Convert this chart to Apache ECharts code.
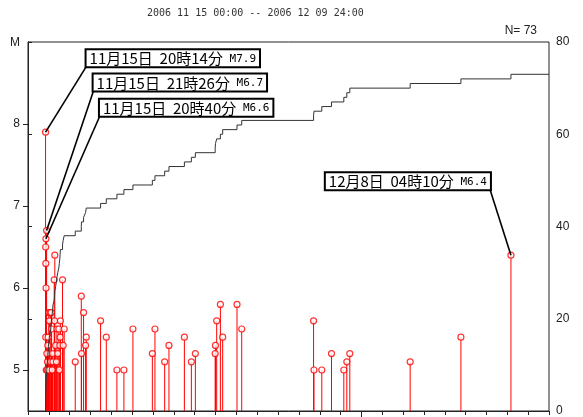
<!DOCTYPE html>
<html><head><meta charset="utf-8">
<script src="https://cdn.jsdelivr.net/npm/echarts@6/dist/echarts.min.js"></script>
<style>html,body{margin:0;padding:0;background:#fff}#c{width:583px;height:417px}</style>
</head><body><div id="c"></div>
<script>
// ---------------- data ----------------
const titleText = '2006 11 15 00:00 -- 2006 12 09 24:00';
const magAxisName = 'M';
const periodStart = '11-15 00:00';
const periodEnd = '12-10 00:00';
const monthStarts = ['12-01 00:00'];
const eventTimes = [
  '11-15 20:14','11-15 20:20','11-15 20:25','11-15 20:31','11-15 20:40','11-15 20:48','11-15 21:02','11-15 21:26',
  '11-15 21:44','11-15 22:03','11-15 22:25','11-15 22:48','11-15 23:10','11-15 23:34','11-15 23:58','11-16 00:41',
  '11-16 01:30','11-16 02:14','11-16 02:44','11-16 03:12','11-16 03:50','11-16 04:20','11-16 04:46','11-16 06:12',
  '11-16 06:35','11-16 06:53','11-16 07:50','11-16 08:40','11-16 09:20','11-16 10:15','11-16 11:30','11-16 12:05',
  '11-16 12:40','11-16 13:00','11-16 13:20','11-16 15:46','11-16 16:30','11-16 17:40',
  '11-17 06:24','11-17 13:22','11-17 13:36','11-17 16:00','11-17 18:18','11-17 19:06',
  '11-18 11:35','11-18 18:10','11-19 06:23','11-19 14:27','11-20 00:50','11-20 23:12',
  '11-21 02:12','11-21 13:23','11-21 18:20','11-22 12:06','11-22 20:08','11-23 00:45',
  '11-23 23:34','11-23 23:54','11-24 01:18','11-24 05:33','11-24 08:12','11-25 00:42','11-25 06:07',
  '11-28 16:52','11-28 17:20','11-29 02:20','11-29 13:31','11-30 03:42','11-30 07:09','11-30 10:36',
  '12-03 08:07','12-05 18:33','12-08 04:10'
];
const eventMags = [
  7.9,6.5,5.4,6.3,6.6,6.0,5.0,6.7,
  5.2,5.0,5.1,5.3,5.4,5.0,5.7,5.6,
  5.7,5.1,5.7,5.5,5.0,5.2,5.1,6.1,
  5.6,6.4,5.3,5.1,5.5,5.2,5.5,5.0,
  5.3,5.4,5.6,6.1,5.3,5.5,
  5.1,5.9,5.2,5.7,5.3,5.4,
  5.6,5.4,5.0,5.0,5.5,5.2,
  5.5,5.1,5.3,5.4,5.1,5.2,
  5.2,5.3,5.6,5.8,5.4,5.8,5.5,
  5.6,5.0,5.0,5.2,5.0,5.1,5.2,
  5.1,5.4,6.4
];
const annoTimes = ['11-15 20:14','11-15 21:26','11-15 20:40','12-08 04:10'];
const annoMags = [7.9, 6.7, 6.6, 6.4];
const annoDates = ['11月15日','11月15日','11月15日','12月8日'];
const annoClock = ['20時14分','21時26分','20時40分','04時10分'];
const magTicks = [5, 6, 7, 8];
const countTicks = [0, 20, 40, 60, 80];

// ---------------- helpers ----------------
function toDay(s) {
  const [md, hm] = s.split(' ');
  const [mo, d] = md.split('-').map(Number);
  const [h, m] = hm.split(':').map(Number);
  return (mo === 11 ? d - 15 : d + 15) + h / 24 + m / 1440;
}
const xMin = toDay(periodStart), xMax = toDay(periodEnd);
const eventDays = eventTimes.map(toDay);
const points = eventDays.map((t, i) => [t, eventMags[i]]);
const order = eventDays.slice().sort((a, b) => a - b);
const cumData = [[order[0], 0]];
order.forEach((t, i) => cumData.push([t, i + 1]));
cumData.push([xMax, order.length]);
const annoData = annoTimes.map((t, i) => [toDay(t), annoMags[i]]);

// ---------------- layout ----------------
const M_MIN = 4.5, M_MAX = 9;
const AXIS_COLOR = '#222';
const ANNO_LAYOUT = [
  { dx: 41, dy: -66, align: 'left' },
  { dx: 47, dy: -140, align: 'left' },
  { dx: 54, dy: -123, align: 'left' },
  { dx: -21, dy: -66, align: 'right' }
];
const labelFont = { fontFamily: 'Liberation Sans', fontSize: 12, color: '#222' };

const chart = echarts.init(document.getElementById('c'), null, { renderer: 'canvas' });
chart.setOption({
  animation: false,
  backgroundColor: '#fff',
  title: [
    {
      text: titleText, left: 147, top: 8, padding: 0,
      textStyle: { fontFamily: 'DejaVu Sans Mono', fontSize: 10, fontWeight: 'normal', color: '#333' }
    },
    {
      text: 'N= ' + eventTimes.length, right: 46, top: 25, padding: 0,
      textStyle: { ...labelFont, fontWeight: 'normal' }
    },
    {
      text: magAxisName, left: 10, top: 37, padding: 0,
      textStyle: { ...labelFont, fontWeight: 'normal' }
    }
  ],
  grid: { left: 28, right: 34, top: 42, bottom: 6, containLabel: false, outerBoundsMode: 'none',
          show: true, borderColor: AXIS_COLOR, borderWidth: 1 },
  xAxis: [
    {
      type: 'value', min: xMin, max: xMax, interval: 1,
      axisLine: { show: true, lineStyle: { color: AXIS_COLOR } },
      axisTick: { show: true, length: 4, lineStyle: { color: AXIS_COLOR } },
      axisLabel: { show: false }, splitLine: { show: false }
    },
    {
      type: 'value', min: xMin, max: xMax, position: 'bottom',
      axisLine: { show: false },
      axisTick: { show: true, length: 6, customValues: monthStarts.map(toDay), lineStyle: { color: AXIS_COLOR } },
      axisLabel: { show: false }, splitLine: { show: false }
    }
  ],
  yAxis: [
    {
      type: 'value', min: M_MIN, max: M_MAX, position: 'left',
      axisLine: { show: true, lineStyle: { color: AXIS_COLOR } },
      axisTick: { show: true, length: 5, customValues: magTicks, lineStyle: { color: AXIS_COLOR } },
      axisLabel: { ...labelFont, margin: 8, customValues: magTicks },
      splitLine: { show: false }
    },
    {
      type: 'value', min: 0, max: 80, interval: 20, position: 'right',
      axisLine: { show: true, lineStyle: { color: AXIS_COLOR } },
      axisTick: { show: true, length: 4, lineStyle: { color: AXIS_COLOR } },
      axisLabel: { ...labelFont, margin: 7, customValues: countTicks },
      splitLine: { show: false }
    }
  ],
  series: [
    {
      name: 'stems', type: 'custom', xAxisIndex: 0, yAxisIndex: 0, z: 1,
      data: points,
      renderItem: (params, api) => {
        const top = api.coord([api.value(0), api.value(1)]);
        const base = api.coord([api.value(0), M_MIN]);
        return { type: 'line', shape: { x1: top[0], y1: base[1], x2: top[0], y2: top[1] },
                 style: { stroke: '#ff0000', lineWidth: 1 } };
      }
    },
    {
      name: 'events', type: 'scatter', xAxisIndex: 0, yAxisIndex: 0, z: 2,
      data: points, symbol: 'circle', symbolSize: 6,
      itemStyle: { color: '#fff', borderColor: '#ff0000', borderWidth: 1.2 }
    },
    {
      name: 'cumulative', type: 'line', xAxisIndex: 0, yAxisIndex: 1, z: 3,
      data: cumData, step: 'end', symbol: 'none',
      lineStyle: { color: '#333', width: 1 }
    },
    {
      name: 'annotations', type: 'custom', xAxisIndex: 0, yAxisIndex: 0, z: 5, clip: false,
      data: annoData,
      renderItem: (params, api) => {
        const i = params.dataIndex;
        const p = api.coord([api.value(0), api.value(1)]);
        const L = ANNO_LAYOUT[i];
        const cx = p[0] + L.dx, cy = p[1] + L.dy;
        return {
          type: 'group',
          children: [
            { type: 'line', shape: { x1: p[0], y1: p[1], x2: cx, y2: cy }, style: { stroke: '#000', lineWidth: 1.6 } },
            { type: 'text', x: cx, y: cy, z2: 10,
              style: {
                text: '{a|' + annoDates[i] + '  ' + annoClock[i] + '}{b| M' + annoMags[i].toFixed(1) + '}',
                rich: {
                  a: { fontFamily: 'Noto Sans CJK JP', fontSize: 15, fill: '#000' },
                  b: { fontFamily: 'DejaVu Sans Mono', fontSize: 11, fill: '#000' }
                },
                align: L.align, verticalAlign: 'bottom',
                backgroundColor: '#fff', borderColor: '#000', borderWidth: 2, padding: [1, 3, 0, 3]
              } }
          ]
        };
      }
    }
  ]
});
</script></body></html>
